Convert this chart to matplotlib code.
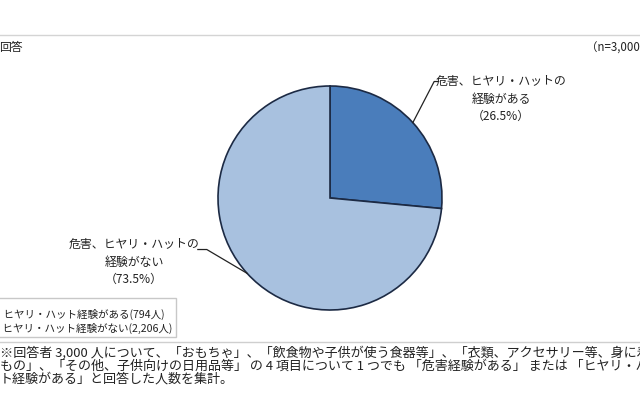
import numpy as np
import matplotlib
matplotlib.use("Agg")
import matplotlib.pyplot as plt
from matplotlib.lines import Line2D
from matplotlib.patches import Rectangle

plt.rcParams['font.family'] = ['Noto Sans CJK JP', 'DejaVu Sans']

# data
labels = ["危害、ヒヤリ・ハットの\n経験がある\n（26.5%）",
          "危害、ヒヤリ・ハットの\n経験がない\n（73.5%）"]
shares = [26.5, 73.5]
legend_labels = ["危害、ヒヤリ・ハット経験がある(794人)",
                 "危害、ヒヤリ・ハット経験がない(2,206人)"]
colors = ["#4a7dbb", "#a8c1df"]
notes = ["※回答者 3,000 人について、「おもちゃ」、「飲食物や子供が使う食器等」、「衣類、アクセサリー等、身に着ける",
         "もの」、「その他、子供向けの日用品等」 の 4 項目について 1 つでも 「危害経験がある」 または 「ヒヤリ・ハッ",
         "ト経験がある」と回答した人数を集計。"]

W, H = 640, 400
fig = plt.figure(figsize=(6.4, 4), dpi=100)


def fx(px):
    return px / W


def fy(py):
    return 1 - py / H


# pie: center (330,198), radius 112 px
ax = fig.add_axes([fx(330 - 112), fy(198 + 112), 224 / W, 224 / H])
wedges, _ = ax.pie(shares, colors=colors, startangle=90, counterclock=False,
                   wedgeprops=dict(edgecolor="#1c2a44", linewidth=1.2))
ax.set_xlim(-1, 1)
ax.set_ylim(-1, 1)
ax.axis('off')

# leader lines from mid-angle of each wedge
ink = "#222222"
for w, side in zip(wedges, [1, -1]):
    ang = np.deg2rad((w.theta1 + w.theta2) / 2)
    x0, y0 = np.cos(ang), np.sin(ang)
    if side > 0:
        xs = [x0, 0.93, 0.97]
        ys = [y0, 1.04, 1.04]
    else:
        xs = [x0, -1.10, -1.18]
        ys = [y0, -0.46, -0.46]
    ax.plot(xs, ys, color=ink, lw=0.9, clip_on=False)

# slice labels
for lab, (cx, cy) in zip(labels, [(501, 99), (134, 262)]):
    fig.text(fx(cx), fy(cy), lab, ha='center', va='center', fontsize=8.6,
             color=ink, linespacing=1.45)

# top rule and header texts
fig.add_artist(Line2D([0, 1], [fy(35), fy(35)], color="#d4d4d4", lw=1.0))
fig.text(fx(-1), fy(48), "回答", ha='left', va='center', fontsize=8.5,
         color=ink)
fig.text(fx(586), fy(48), "（n=3,000）", ha='left', va='center', fontsize=8.3,
         color=ink)

# legend box (cut off at left edge)
fig.add_artist(Rectangle((fx(-10), fy(337)), fx(186), (337 - 298) / H,
                         transform=fig.transFigure, fill=False,
                         edgecolor="#c8c8c8", lw=1.0))
for lab, (rx, cy) in zip(legend_labels, [(165, 314), (173, 328)]):
    fig.text(fx(rx), fy(cy), lab, ha='right', va='center', fontsize=7.6,
             color=ink)

# bottom rule and notes
fig.add_artist(Line2D([0, 1], [fy(342), fy(342)], color="#cfcfcf", lw=1.0))
for i, line in enumerate(notes):
    fig.text(fx(0), fy(353 + 12.8 * i), line, ha='left', va='center',
             fontsize=9.4, color=ink)

fig.savefig("out.png", dpi=100)
